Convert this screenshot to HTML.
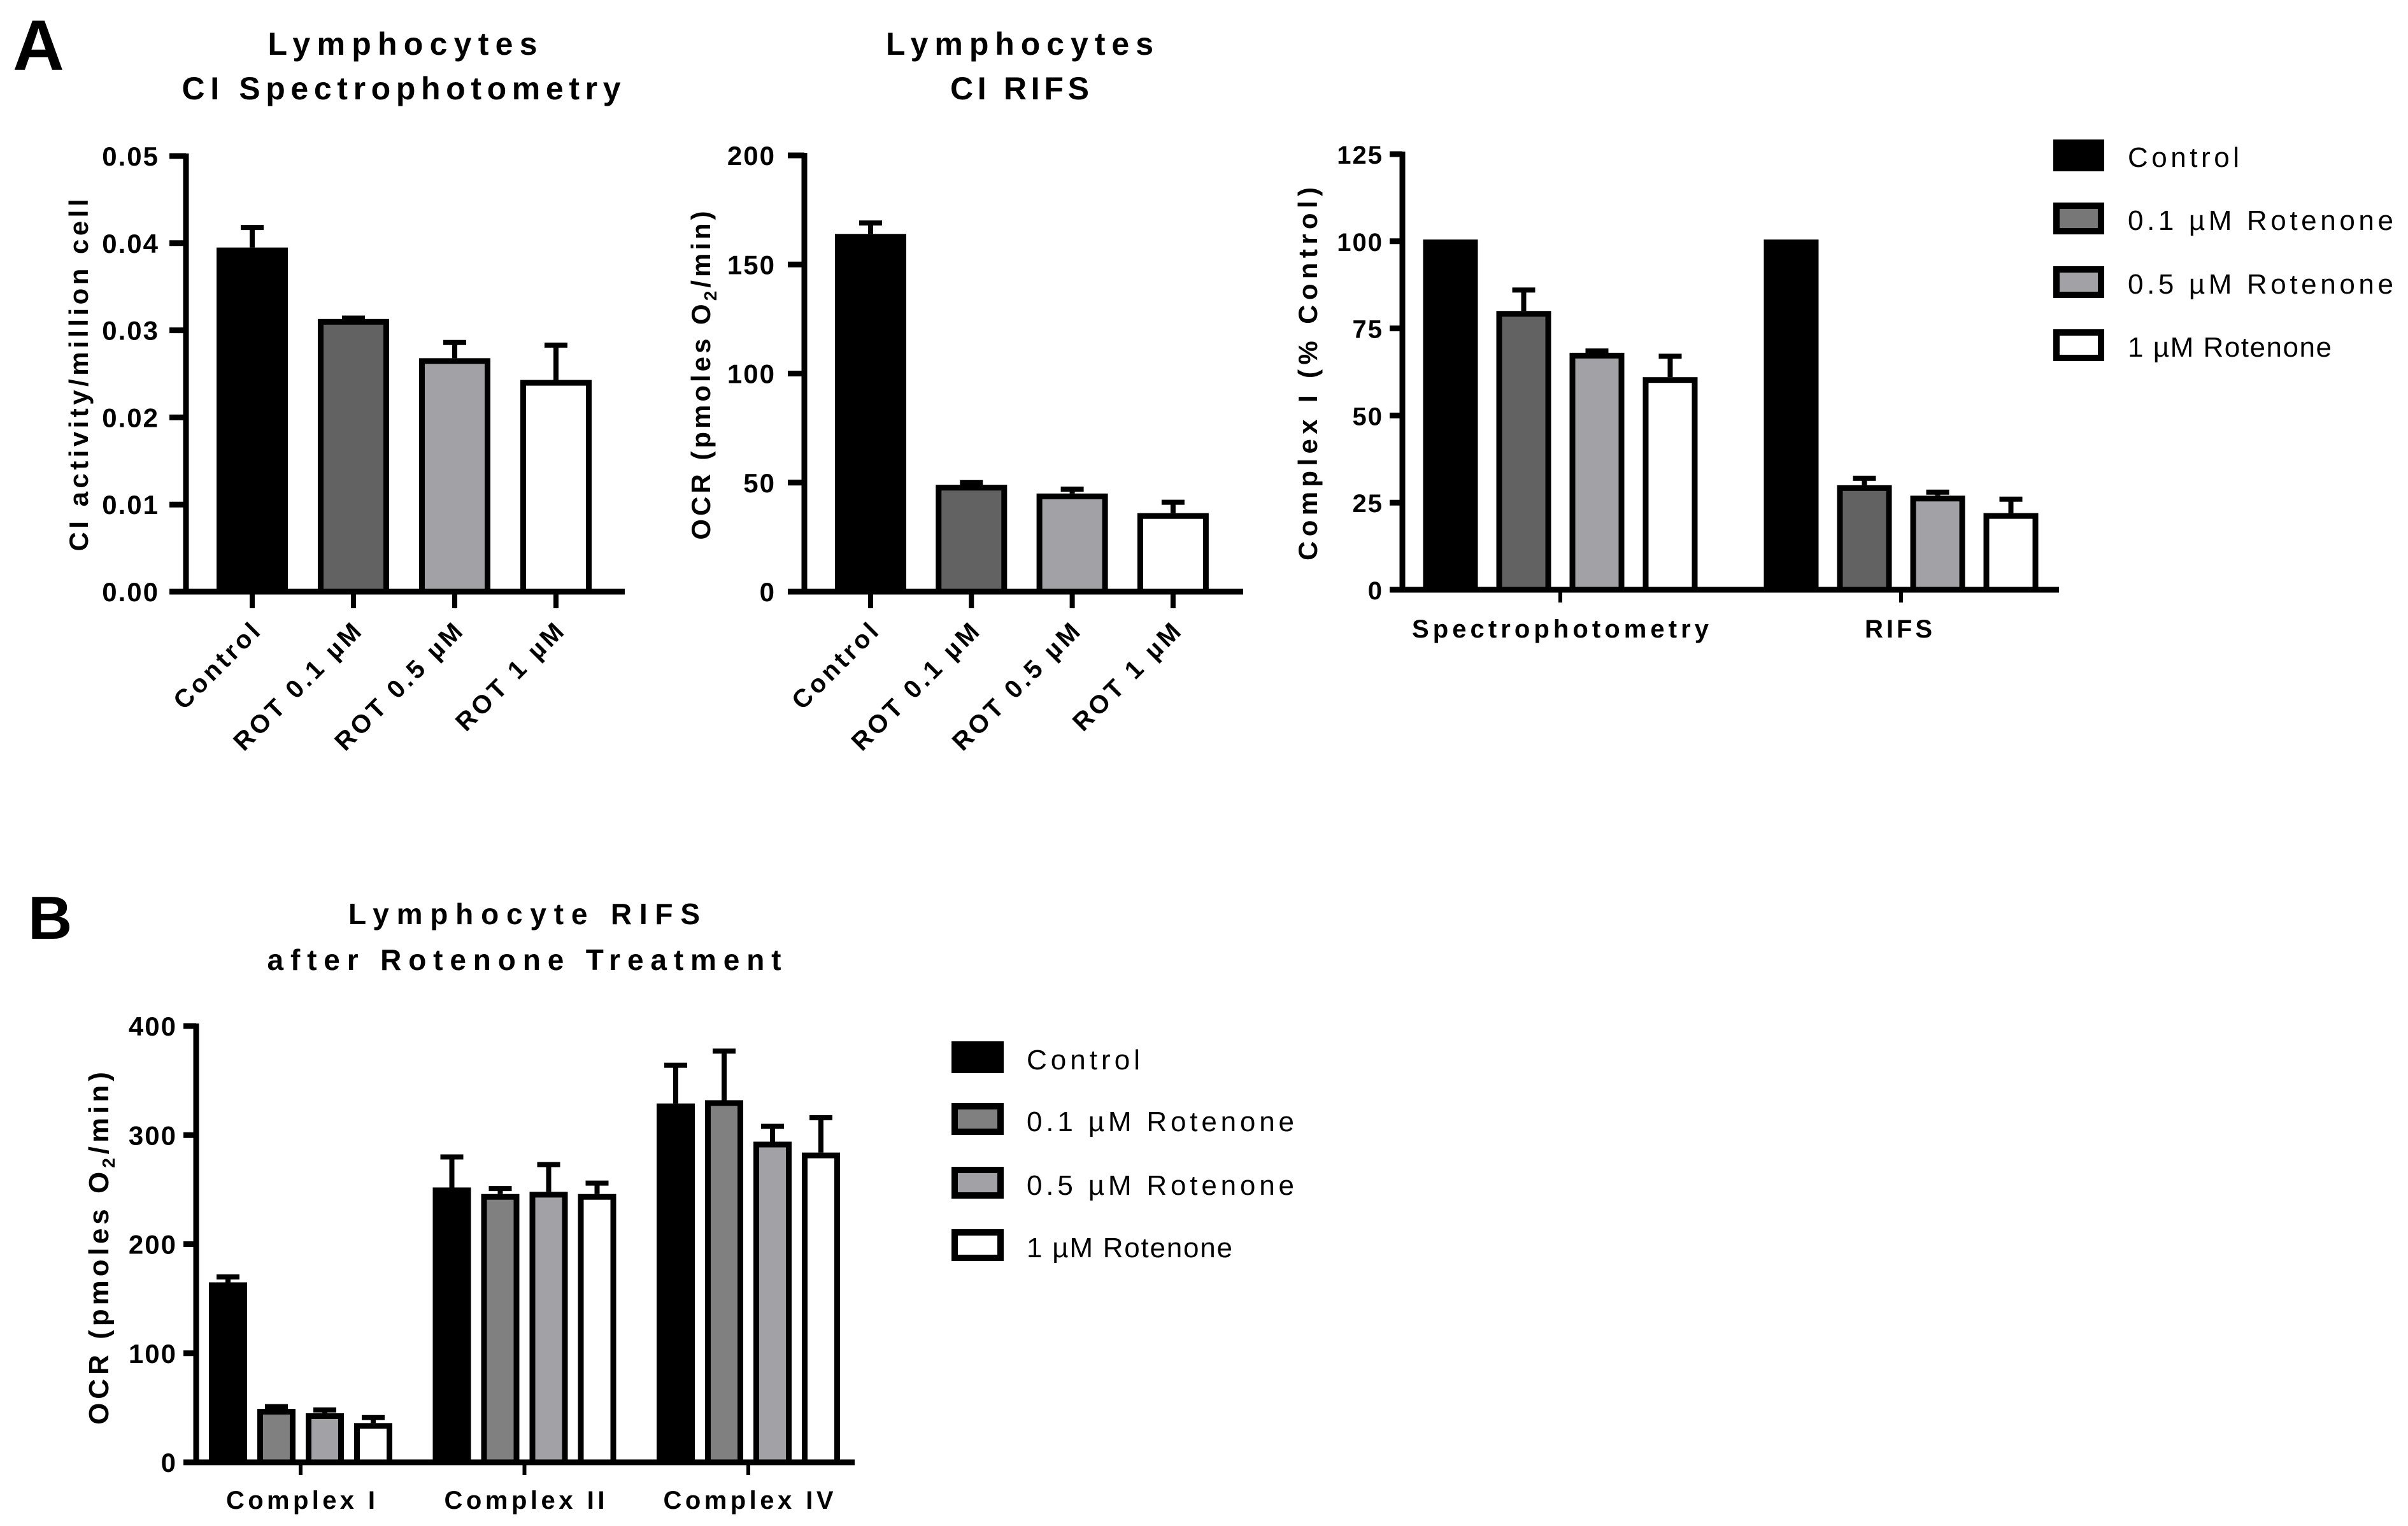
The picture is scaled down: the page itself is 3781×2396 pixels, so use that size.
<!DOCTYPE html>
<html><head><meta charset="utf-8"><style>
html,body{margin:0;padding:0;background:#fff;}
svg{display:block;}
text{font-family:"Liberation Sans",sans-serif;fill:#000;}
</style></head><body>
<svg id="fig" xmlns="http://www.w3.org/2000/svg" width="3781" height="2396" viewBox="0 0 3781 2396">
<rect width="3781" height="2396" fill="#fff"/>
</svg>
<script>
// ---------- Data ----------
const c1Categories = ["Control", "ROT 0.1 µM", "ROT 0.5 µM", "ROT 1 µM"];
const c1Values = [0.0395, 0.0313, 0.0268, 0.0243];
const c1Errors = [0.0023, 0.0001, 0.0018, 0.0040];
const c1Ticks = ["0.00", "0.01", "0.02", "0.03", "0.04", "0.05"];

const c2Categories = ["Control", "ROT 0.1 µM", "ROT 0.5 µM", "ROT 1 µM"];
const c2Values = [164, 49, 45, 36];
const c2Errors = [5, 1, 2, 5];
const c2Ticks = ["0", "50", "100", "150", "200"];

const c3Groups = ["Spectrophotometry", "RIFS"];
const c3Spectro = [100.5, 80, 68, 61];
const c3SpectroErr = [0, 6, 0.5, 6];
const c3Rifs = [100.5, 30, 27, 22];
const c3RifsErr = [0, 2, 1, 4];
const c3Ticks = ["0", "25", "50", "75", "100", "125"];

const bGroups = ["Complex I", "Complex II", "Complex IV"];
const bControl = [165, 252, 329];
const bControlErr = [5, 28, 35];
const bRot01 = [49, 246, 332];
const bRot01Err = [2, 5, 45];
const bRot05 = [45, 248, 294];
const bRot05Err = [3, 25, 14];
const bRot1 = [36, 246, 284];
const bRot1Err = [5, 10, 32];
const bTicks = ["0", "100", "200", "300", "400"];

const seriesNames = ["Control", "0.1 µM Rotenone", "0.5 µM Rotenone", "1 µM Rotenone"];

// ---------- helpers ----------
const NS = "http://www.w3.org/2000/svg";
const svg = document.getElementById("fig");
function el(tag, attrs, parent) {
  const e = document.createElementNS(NS, tag);
  for (const k in attrs) e.setAttribute(k, attrs[k]);
  (parent || svg).appendChild(e);
  return e;
}
function txt(x, y, s, size, opts, parent) {
  opts = opts || {};
  const a = {x: x, y: y, "font-size": size, "font-weight": opts.weight || "bold", "text-anchor": opts.anchor || "middle"};
  if (opts.len) { a.textLength = opts.len; a.lengthAdjust = "spacing"; }
  if (opts.transform) a.transform = opts.transform;
  if (opts.ls) a["letter-spacing"] = opts.ls;
  const t = el("text", a, parent);
  t.textContent = s;
  return t;
}
const darkA = "#626262", midB = "#808080", lightG = "#a2a2a6";

function yScale(v, vmax, y0, ytop) { return y0 - v / vmax * (y0 - ytop); }

function drawBar(g, cx, w, v, err, vmax, y0, ytop, fill, bordered, name) {
  const yt = yScale(v, vmax, y0, ytop);
  const bw = 9;
  let r;
  if (bordered) {
    r = el("rect", {x: cx - w/2 + bw/2, y: yt + bw/2, width: w - bw, height: y0 - yt - bw/2, fill: fill, stroke: "#000", "stroke-width": bw}, g);
  } else {
    r = el("rect", {x: cx - w/2, y: yt, width: w, height: y0 - yt, fill: fill}, g);
  }
  
  
  if (err > 0) {
    const ye = yScale(v + err, vmax, y0, ytop);
    const e = el("path", {d: "M" + cx + " " + yt + "V" + ye + "M" + (cx - 18) + " " + ye + "H" + (cx + 18), stroke: "#000", "stroke-width": 8, fill: "none"}, g);
    
    
  }
}

function drawAxes(g, axX, y0, ytop, xEnd, ticks, tickFont, tickLabelRight, tickLen) {
  const ax = el("path", {d: "M" + axX + " " + (ytop - 4) + "V" + y0 + "H" + xEnd, stroke: "#000", "stroke-width": 9, fill: "none"}, g);
  
  
  for (let i = 0; i < ticks.length; i++) {
    const y = ytop + (y0 - ytop) * (1 - i / (ticks.length - 1));
    el("line", {x1: axX - tickLen, x2: axX, y1: y, y2: y, stroke: "#000", "stroke-width": 9}, g);
    const t = txt(tickLabelRight, y + 15, ticks[i], tickFont, {anchor: "end", ls: 2}, g);
    
    
  }
}

// ---------- Panel letters ----------
let t = txt(20, 110, "A", 112, {anchor: "start"});


t = txt(44, 1474, "B", 96, {anchor: "start"});



// ---------- Chart 1 ----------
(function () {
  const g = el("g", {});
  
  
  const axX = 292, y0 = 929, ytop = 245, vmax = 0.05, pitch = 159, x0 = 396;
  t = txt(632, 86, "Lymphocytes", 50, {len: 423}, g);
  
  
  t = txt(630, 156, "CI Spectrophotometry", 50, {len: 689}, g);
  
  
  const fills = ["#000", darkA, lightG, "#fff"];
  for (let i = 0; i < c1Values.length; i++) {
    const cx = x0 + i * pitch;
    drawBar(g, cx, 112, c1Values[i], c1Errors[i], vmax, y0, ytop, fills[i], i > 0, 'bar-' + i);
    el("line", {x1: cx, x2: cx, y1: y0, y2: y0 + 26, stroke: "#000", "stroke-width": 8}, g);
    const lx = cx + 18, ly = y0 + 62;
    t = txt(lx, ly, c1Categories[i], 40, {anchor: "end", ls: 5, transform: "rotate(-45 " + lx + " " + ly + ")"}, g);
    
    
  }
  drawAxes(g, axX, y0, ytop, 981, c1Ticks, 42, 250, 26);
  t = txt(138, 589, "CI activity/million cell", 42, {len: 553, transform: "rotate(-90 138 589)"}, g);
  
  
})();

// ---------- Chart 2 ----------
(function () {
  const g = el("g", {});
  
  
  const axX = 1263, y0 = 929, ytop = 244, vmax = 200, pitch = 158.3, x0 = 1367;
  t = txt(1601, 86, "Lymphocytes", 50, {len: 420}, g);
  
  
  t = txt(1601, 156, "CI RIFS", 50, {len: 218}, g);
  
  
  const fills = ["#000", darkA, lightG, "#fff"];
  for (let i = 0; i < c2Values.length; i++) {
    const cx = x0 + i * pitch;
    drawBar(g, cx, 112, c2Values[i], c2Errors[i], vmax, y0, ytop, fills[i], i > 0, 'bar-' + i);
    el("line", {x1: cx, x2: cx, y1: y0, y2: y0 + 26, stroke: "#000", "stroke-width": 8}, g);
    const lx = cx + 18, ly = y0 + 62;
    t = txt(lx, ly, c2Categories[i], 40, {anchor: "end", ls: 5, transform: "rotate(-45 " + lx + " " + ly + ")"}, g);
    
    
  }
  drawAxes(g, axX, y0, ytop, 1952, c2Ticks, 42, 1218, 26);
  const yt = el("text", {x: 1115, y: 587, "font-size": 42, "font-weight": "bold", "text-anchor": "middle", "letter-spacing": 5, transform: "rotate(-90 1115 587)"}, g);
  yt.innerHTML = 'OCR (pmoles O<tspan font-size="28" dy="10">2</tspan><tspan dy="-10">/min)</tspan>';
  
  
})();

// ---------- Chart 3 ----------
(function () {
  const g = el("g", {});
  
  
  const axX = 2202, y0 = 926, ytop = 242, vmax = 125, pitch = 115, w = 86;
  const centers = [2450, 2985];
  const fills = ["#000", darkA, lightG, "#fff"];
  const groups = [[c3Spectro, c3SpectroErr], [c3Rifs, c3RifsErr]];
  for (let gi = 0; gi < 2; gi++) {
    for (let i = 0; i < 4; i++) {
      const cx = centers[gi] + (i - 1.5) * pitch;
      drawBar(g, cx, w, groups[gi][0][i], groups[gi][1][i], vmax, y0, ytop, fills[i], i > 0, 'bar-' + gi + '-' + i);
    }
    el("line", {x1: centers[gi], x2: centers[gi], y1: y0, y2: y0 + 20, stroke: "#000", "stroke-width": 6}, g);
    t = txt(centers[gi] + (gi ? -4 : 0), 1001, c3Groups[gi], 40, {len: gi ? 106 : 466}, g);
    
    
  }
  drawAxes(g, axX, y0, ytop, 3233, c3Ticks, 40, 2172, 20);
  t = txt(2068, 587, "Complex I (% Control)", 42, {len: 586, transform: "rotate(-90 2068 587)"}, g);
  
  
  // legend
  const lg = el("g", {}, g);
  
  
  const lf = ["#000", "#777", lightG, "#fff"];
  const rows = [262, 361, 461, 560];
  const lens = [175, 417, 417, 320];
  for (let i = 0; i < 4; i++) {
    const sw = el("rect", {x: 3229, y: rows[i] - 38, width: 70, height: 40, fill: lf[i], stroke: "#000", "stroke-width": 10}, lg);
    
    
    t = txt(3341, rows[i], seriesNames[i], 44, {anchor: "start", weight: "normal", len: lens[i]}, lg);
    
    
  }
})();

// ---------- Chart B ----------
(function () {
  const g = el("g", {});
  
  
  const axX = 308, y0 = 2296, ytop = 1611, vmax = 400, pitch = 76, w = 60;
  const centers = [472, 823.5, 1175];
  t = txt(823, 1451, "Lymphocyte RIFS", 46, {len: 552}, g);
  
  
  t = txt(823, 1523, "after Rotenone Treatment", 46, {len: 807}, g);
  
  
  const fills = ["#000", midB, lightG, "#fff"];
  const vals = [bControl, bRot01, bRot05, bRot1];
  const errs = [bControlErr, bRot01Err, bRot05Err, bRot1Err];
  const lens = [234, 252, 267];
  for (let gi = 0; gi < 3; gi++) {
    for (let i = 0; i < 4; i++) {
      const cx = centers[gi] + (i - 1.5) * pitch;
      drawBar(g, cx, w, vals[i][gi], errs[i][gi], vmax, y0, ytop, fills[i], i > 0, 'bar-' + gi + '-' + i);
    }
    el("line", {x1: centers[gi], x2: centers[gi], y1: y0, y2: y0 + 20, stroke: "#000", "stroke-width": 6}, g);
    t = txt(centers[gi], 2369, bGroups[gi], 40, {len: lens[gi]}, g);
    
    
  }
  drawAxes(g, axX, y0, ytop, 1342, bTicks, 42, 278, 20);
  const yt = el("text", {x: 170, y: 1957, "font-size": 44, "font-weight": "bold", "text-anchor": "middle", "letter-spacing": 6, transform: "rotate(-90 170 1957)"}, g);
  yt.innerHTML = 'OCR (pmoles O<tspan font-size="28" dy="10">2</tspan><tspan dy="-10">/min)</tspan>';
  
  
  const lg = el("g", {}, g);
  
  
  const lf = ["#000", midB, lightG, "#fff"];
  const rows = [1679, 1776, 1876, 1974];
  const ll = [178, 420, 420, 323];
  for (let i = 0; i < 4; i++) {
    const sw = el("rect", {x: 1499, y: rows[i] - 39, width: 72, height: 40, fill: lf[i], stroke: "#000", "stroke-width": 10}, lg);
    
    
    t = txt(1612, rows[i], seriesNames[i], 44, {anchor: "start", weight: "normal", len: ll[i]}, lg);
    
    
  }
})();
</script>
</body></html>
